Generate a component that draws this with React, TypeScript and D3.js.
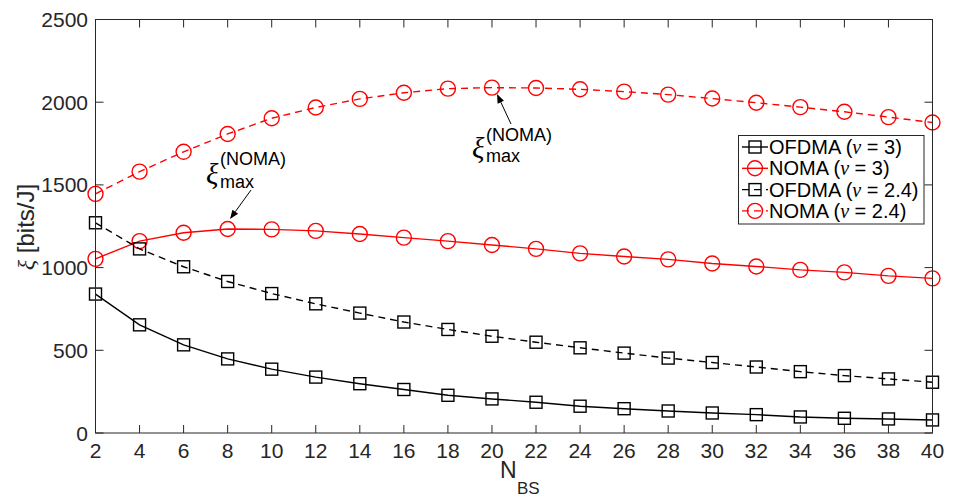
import React from "react";
import * as d3 from "d3";

const nbs = [2, 4, 6, 8, 10, 12, 14, 16, 18, 20, 22, 24, 26, 28, 30, 32, 34, 36, 38, 40];
const ofdma3 = [840, 654, 533, 448, 386, 338, 298, 263, 228, 206, 186, 162, 147, 133, 121, 111, 97, 89, 85, 79];
const noma3 = [1053, 1160, 1211, 1233, 1231, 1222, 1203, 1181, 1160, 1137, 1113, 1086, 1067, 1050, 1025, 1007, 986, 971, 950, 935];
const ofdma24 = [1271, 1113, 1005, 916, 843, 781, 725, 671, 626, 585, 549, 515, 483, 453, 426, 399, 371, 347, 327, 307];
const noma24 = [1446, 1580, 1700, 1808, 1903, 1968, 2020, 2057, 2082, 2088, 2086, 2078, 2064, 2046, 2022, 1997, 1970, 1942, 1910, 1877];
const xTicks = [2, 4, 6, 8, 10, 12, 14, 16, 18, 20, 22, 24, 26, 28, 30, 32, 34, 36, 38, 40];
const yTicks = [0, 500, 1000, 1500, 2000, 2500];
const legendLabels = ["OFDMA", "NOMA", "OFDMA", "NOMA"];
const legendNu = ["3", "3", "2.4", "2.4"];

const W = 954;
const H = 503;
const X0 = 95.5, X1 = 932.5, Y0 = 19.5, Y1 = 433;
const AX = "#262626";
const SANS = "'Liberation Sans', Arial, Helvetica, sans-serif";
const SERIF = "'Liberation Serif', 'Times New Roman', serif";

type Series = { vals: number[]; color: string; dashed: boolean; marker: "square" | "circle" };

const series: Series[] = [
  { vals: ofdma3, color: "#000000", dashed: false, marker: "square" },
  { vals: noma3, color: "#ff0000", dashed: false, marker: "circle" },
  { vals: ofdma24, color: "#000000", dashed: true, marker: "square" },
  { vals: noma24, color: "#ff0000", dashed: true, marker: "circle" },
];

const SQ = 12;
const CR = 7.5;
const LW = 1.4;
const DASH = "7,5";

function Marker({ kind, x, y, color }: { kind: string; x: number; y: number; color: string }) {
  if (kind === "square")
    return <rect x={x - SQ / 2} y={y - SQ / 2} width={SQ} height={SQ} fill="none" stroke={color} strokeWidth={LW} />;
  return <circle cx={x} cy={y} r={CR} fill="none" stroke={color} strokeWidth={LW} />;
}

function Arrow({ x1, y1, x2, y2 }: { x1: number; y1: number; x2: number; y2: number }) {
  const ang = Math.atan2(y2 - y1, x2 - x1);
  const L = 9, Wd = 3.5;
  const bx = x2 - L * Math.cos(ang), by = y2 - L * Math.sin(ang);
  const px = -Math.sin(ang) * Wd, py = Math.cos(ang) * Wd;
  return (
    <g>
      <line x1={x1} y1={y1} x2={bx} y2={by} stroke="#000" strokeWidth={1} />
      <polygon points={`${x2},${y2} ${bx + px},${by + py} ${bx - px},${by - py}`} fill="#000" />
    </g>
  );
}

function XiLabel({ x, xiBase, supBase, subBase }: { x: number; xiBase: number; supBase: number; subBase: number }) {
  return (
    <g fill="#000">
      <text x={x} y={xiBase} fontFamily={SERIF} fontStyle="italic" fontSize={29}>ξ</text>
      <text x={x + 14} y={supBase} fontFamily={SANS} fontSize={18}>(NOMA)</text>
      <text x={x + 14} y={subBase} fontFamily={SANS} fontSize={18}>max</text>
    </g>
  );
}

export default function App() {
  const x = d3.scaleLinear().domain([2, 40]).range([X0, X1]);
  const y = d3.scaleLinear().domain([0, 2500]).range([Y1, Y0]);
  const line = d3
    .line<number>()
    .x((_, i) => x(nbs[i]))
    .y((d) => y(d));

  const legX = 738.5, legY = 135.5, legW = 185.5, legH = 88.5;
  const rowY0 = 147, rowDy = 21.3;

  return (
    <svg width={W} height={H} style={{ position: "absolute", left: 0, top: 0, background: "#fff" }}>
      <rect x={0} y={0} width={W} height={H} fill="#fff" />
      {series.map((s, si) => (
        <g key={si}>
          <path d={line(s.vals) || ""} fill="none" stroke={s.color} strokeWidth={LW} strokeDasharray={s.dashed ? DASH : undefined} />
          {s.vals.map((v, i) => (
            <Marker key={i} kind={s.marker} x={x(nbs[i])} y={y(v)} color={s.color} />
          ))}
        </g>
      ))}
      <rect x={X0} y={Y0} width={X1 - X0} height={Y1 - Y0} fill="none" stroke={AX} strokeWidth={1} />
      {xTicks.map((t) => (
        <g key={"x" + t}>
          <line x1={x(t)} x2={x(t)} y1={Y1} y2={Y1 - 8} stroke={AX} strokeWidth={1} />
          <line x1={x(t)} x2={x(t)} y1={Y0} y2={Y0 + 8} stroke={AX} strokeWidth={1} />
          <text x={x(t)} y={458} textAnchor="middle" fontFamily={SANS} fontSize={21} fill={AX}>{t}</text>
        </g>
      ))}
      {yTicks.map((t) => (
        <g key={"y" + t}>
          <line x1={X0} x2={X0 + 8} y1={y(t)} y2={y(t)} stroke={AX} strokeWidth={1} />
          <line x1={X1} x2={X1 - 8} y1={y(t)} y2={y(t)} stroke={AX} strokeWidth={1} />
          <text x={88} y={y(t) + 7.5} textAnchor="end" fontFamily={SANS} fontSize={21} fill={AX}>{t}</text>
        </g>
      ))}
      <g transform="translate(34,227) rotate(-90)">
        <text x={0} y={0} textAnchor="middle" fontSize={24} fill={AX}>
          <tspan fontFamily={SERIF} fontStyle="italic">ξ</tspan>
          <tspan fontFamily={SANS}> [bits/J]</tspan>
        </text>
      </g>
      <text x={500} y={478} fontFamily={SANS} fontSize={23} fill={AX}>N</text>
      <text x={517} y={494} fontFamily={SANS} fontSize={17} fill={AX}>BS</text>
      <XiLabel x={206} xiBase={184} supBase={165} subBase={188} />
      <Arrow x1={251} y1={190} x2={230} y2={219} />
      <XiLabel x={472} xiBase={158} supBase={141} subBase={162} />
      <Arrow x1={511} y1={124} x2={497} y2={94} />
      <rect x={legX} y={legY} width={legW} height={legH} fill="#fff" stroke={AX} strokeWidth={1} />
      {series.map((s, i) => {
        const ry = rowY0 + i * rowDy;
        return (
          <g key={"l" + i}>
            <line x1={742} x2={768} y1={ry} y2={ry} stroke={s.color} strokeWidth={LW} strokeDasharray={s.dashed ? DASH : undefined} />
            <Marker kind={s.marker} x={755} y={ry} color={s.color} />
            <text x={769} y={ry + 7} fontFamily={SANS} fontSize={20} fill="#000">
              {legendLabels[i]} (<tspan fontFamily={SERIF} fontStyle="italic">ν</tspan> = {legendNu[i]})
            </text>
          </g>
        );
      })}
    </svg>
  );
}
